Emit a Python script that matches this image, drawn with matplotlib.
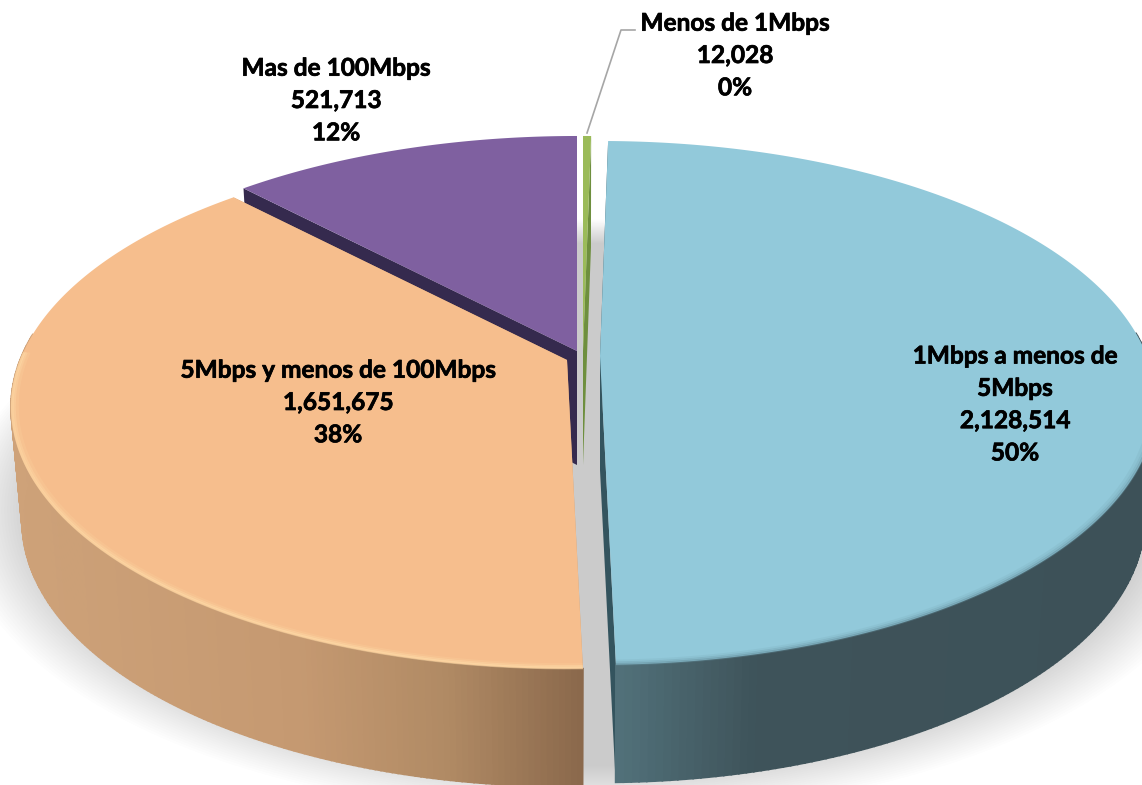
import numpy as np
import matplotlib
matplotlib.use('Agg')
import matplotlib.pyplot as plt
import matplotlib.patheffects as pe

names = ['Menos de 1Mbps', '1Mbps a menos de\n5Mbps', '5Mbps y menos de 100Mbps', 'Mas de 100Mbps']
values = [12028, 2128514, 1651675, 521713]
percents = ['0%', '50%', '38%', '12%']

top_colors = ['#9BBB59', '#92C9DA', '#F6BE8D', '#7F60A0']
side_colors = ['#6E8F3E', '#3D5158', '#C99E76', '#352A4E']
centers = [(583, 351), (600, 356), (567, 360), (577, 351)]
label_pos = [(735, 55.5), (1015, 404.5), (338, 402.5), (336, 100.5)]
draw_z = [2, 8, 6, 4]

R = 547
A = 253.5
K = 0.179
DEPTH = 114
TAPER = 0.98


def project(theta, r, center):
    u = r * np.sin(theta)
    v = -r * np.cos(theta)
    s = 1 / (1 - K * v)
    return center[0] + R * u * s, center[1] + A * v * s


def lower(x, y, center):
    return center[0] + (x - center[0]) * TAPER, y + DEPTH + 0.012 * (y - center[1])


def wall_color(i, x):
    if i == 1:
        xs = [617, 680, 760, 1142]
        cs = [(0x52, 0x72, 0x7B), (0x49, 0x64, 0x6C), (0x3E, 0x53, 0x5A), (0x3D, 0x51, 0x58)]
    elif i == 2:
        xs = [0, 300, 450, 581]
        cs = [(0xCE, 0xA2, 0x79), (0xC5, 0x99, 0x71), (0xB0, 0x8A, 0x64), (0x8B, 0x69, 0x4C)]
    else:
        return side_colors[i]
    return tuple(np.interp(x, xs, [c[k] for c in cs]) / 255 for k in range(3))


fig = plt.figure(figsize=(11.42, 7.85), dpi=100)
ax = fig.add_axes([0, 0, 1, 1])
ax.set_xlim(0, 1142)
ax.set_ylim(785, 0)
ax.axis('off')

# soft shadow under the pie
t = np.linspace(0, 2 * np.pi, 240)
for sc in np.linspace(1.13, 1.0, 26):
    sx, sy = project(t, sc, (590, 458))
    ax.fill(sx, sy, color='#777777', alpha=0.0125, lw=0, zorder=1)

total = sum(values)
start = 0.0
for i, val in enumerate(values):
    end = start + val / total * 2 * np.pi
    c = centers[i]
    th = np.linspace(start, end, 260)
    x, y = project(th, 1, c)
    z = draw_z[i]

    # the two inner walls
    for ex, ey in [(x[0], y[0]), (x[-1], y[-1])]:
        bx, by = lower(ex, ey, c)
        ax.fill([c[0], ex, bx, c[0]], [c[1], ey, by, c[1] + DEPTH],
                color=side_colors[i] if i != 1 else '#34545E', lw=0, zorder=z)

    # outer wall, only the front part, cut in thin pieces for the shading
    bx, by = lower(x, y, c)
    for j in range(len(th) - 1):
        if -np.cos(th[j]) < -0.1:
            continue
        ax.fill([x[j], x[j + 1], bx[j + 1], bx[j]], [y[j], y[j + 1], by[j + 1], by[j]],
                color=wall_color(i, x[j]), lw=1.2, zorder=z)

    # top face
    ax.fill(np.r_[c[0], x], np.r_[c[1], y], color=top_colors[i], lw=0, zorder=z + 0.1)
    start = end

    # bevel along the rim
    if i == 2:
        mask = (th < np.radians(272))
        for r, lw, al in [(0.998, 2, 0.45), (0.994, 2, 0.35), (0.989, 2, 0.15)]:
            rx, ry = project(th[mask], r, c)
            ax.plot(rx, ry, color='#FFE2AE', lw=lw, alpha=al, zorder=z + 0.2, solid_capstyle='butt')
    if i == 1:
        mask = th > np.radians(95)
        for r, lw, al in [(0.999, 2, 0.4), (0.995, 2, 0.22), (0.99, 2, 0.1)]:
            rx, ry = project(th[mask], r, c)
            ax.plot(rx, ry, color='#5F8794', lw=lw, alpha=al, zorder=z + 0.2, solid_capstyle='butt')

# leader line for the small slice
ax.plot([587, 621, 635], [133, 30, 30], color='#A6A6A6', lw=1.2, zorder=12)

for i, (px, py) in enumerate(label_pos):
    txt = f'{names[i]}\n{values[i]:,}\n{percents[i]}'
    lab = ax.text(px, py, txt, ha='center', va='center', family='Lato', weight='bold',
                  fontsize=17.6, linespacing=1.49, color='black', zorder=20)
    lab.set_path_effects([pe.withStroke(linewidth=0.5, foreground='black')])

fig.savefig('out.png', dpi=100)
